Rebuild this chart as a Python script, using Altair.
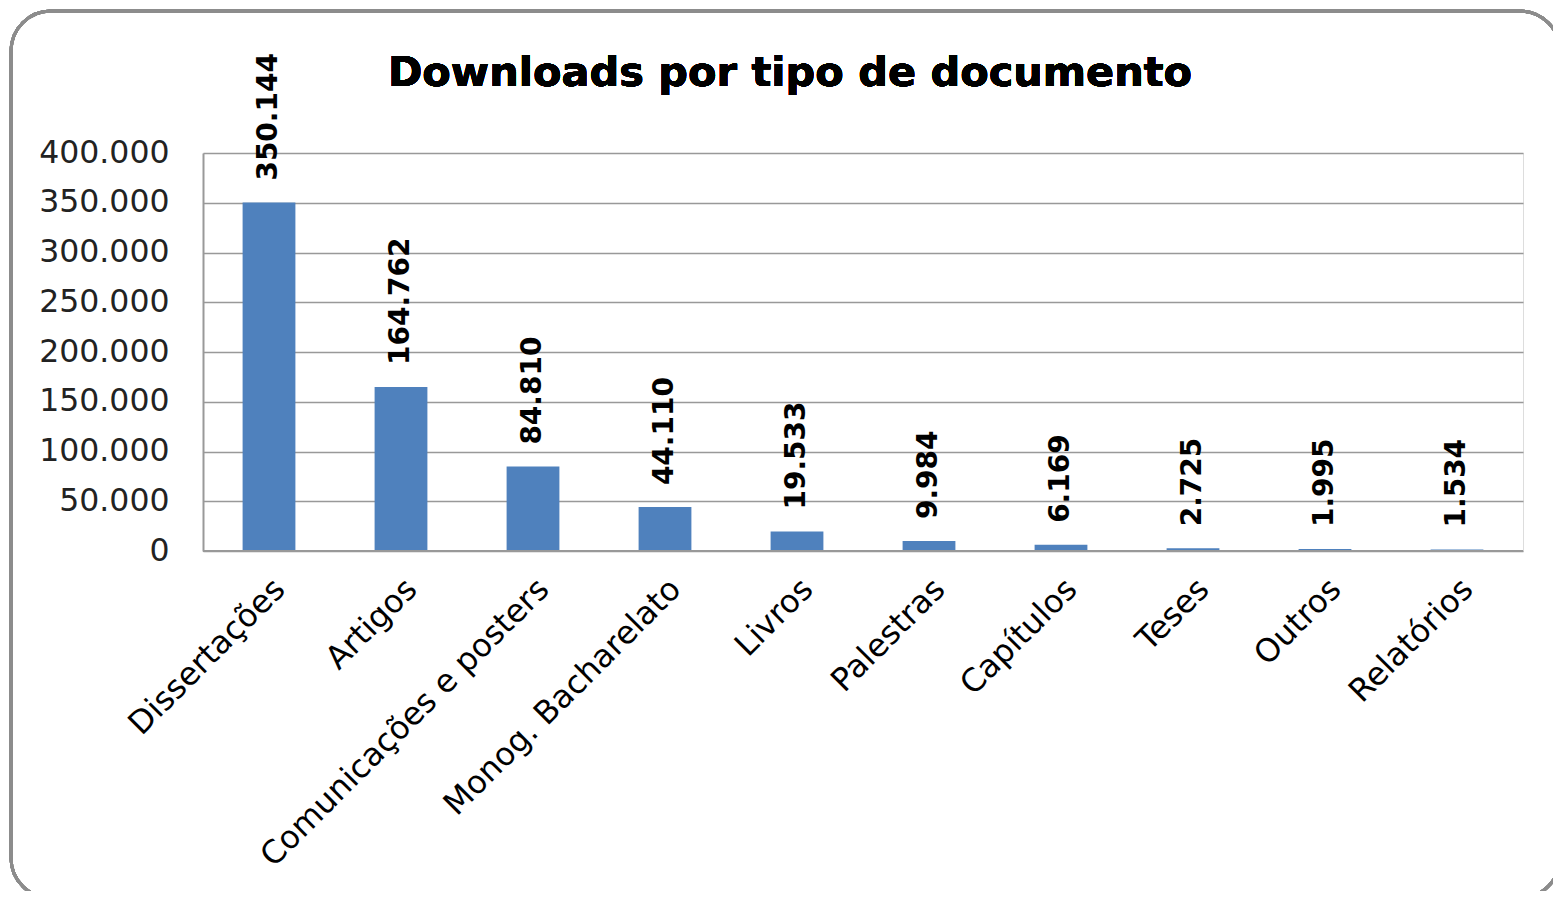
import altair as alt
import pandas as pd

categories = ["Dissertações", "Artigos", "Comunicações e posters", "Monog. Bacharelato",
              "Livros", "Palestras", "Capítulos", "Teses", "Outros", "Relatórios"]
values = [350144, 164762, 84810, 44110, 19533, 9984, 6169, 2725, 1995, 1534]
labels = ["350.144", "164.762", "84.810", "44.110", "19.533", "9.984", "6.169", "2.725", "1.995", "1.534"]

df = pd.DataFrame({"cat": categories, "val": values, "lab": labels})

FONT = "DejaVu Sans"
W, H = 1320, 398
PL, PT = 195, 145

x = alt.X("cat:N", sort=categories, title=None,
          scale=alt.Scale(paddingInner=0.6, paddingOuter=0.3),
          axis=alt.Axis(labelAngle=-45, labelFontSize=32, labelFont=FONT, labelColor="#000",
                        labelAlign="right", labelBaseline="top", labelPadding=22,
                        ticks=False, domain=False, labelLimit=600))
y = alt.Y("val:Q", title=None,
          scale=alt.Scale(domain=[0, 400000], nice=False),
          axis=alt.Axis(values=list(range(0, 400001, 50000)),
                        labelExpr="replace(format(datum.value, ',.0f'), ',', '.')",
                        labelFontSize=31.5, labelFont=FONT, labelColor="#222", labelPadding=34,
                        ticks=False, domain=True, domainColor="#999", domainWidth=2,
                        grid=True, gridColor="#999", gridWidth=1.5))

bars = alt.Chart(df).mark_bar(color="#4F81BD").encode(x=x, y=y)

text = alt.Chart(df).mark_text(angle=270, align="left", baseline="middle", dx=22,
                               fontSize=28, fontWeight="bold", font=FONT, color="#000").encode(
    x=alt.X("cat:N", sort=categories), y="val:Q", text="lab:N")

bottom = alt.Chart(df).mark_rule(color="#999", strokeWidth=2).encode(
    x=alt.value(0), x2=alt.value(W), y=alt.value(H))

border = alt.Chart(df).mark_rect(fill=None, stroke="#8c8c8c", strokeWidth=3,
                                 cornerRadius=40, clip=False).encode(
    x=alt.value(-192), x2=alt.value(1357), y=alt.value(-142), y2=alt.value(745))

title = alt.Chart(df).mark_text(fontSize=41.5, fontWeight="bold", font=FONT, color="#000",
                                align="center", baseline="middle").encode(
    x=alt.value(587), y=alt.value(-79), text=alt.value("Downloads por tipo de documento"))

chart = alt.layer(border, bars, bottom, text, title).properties(
    width=W, height=H,
    autosize=alt.AutoSizeParams(type="none"),
    padding={"left": PL, "top": PT, "right": 30, "bottom": 340},
).configure_view(stroke=None).configure(background="white")

chart.save("out.html", embed_options={"renderer": "svg", "actions": False})
